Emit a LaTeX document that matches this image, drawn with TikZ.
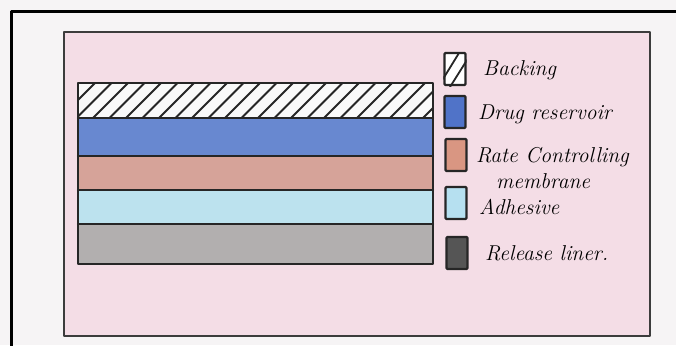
\documentclass[tikz,border=0pt]{standalone}
\definecolor{pagewhite}{RGB}{246,244,245}
\definecolor{paperpink}{RGB}{244,221,230}
\definecolor{framegray}{RGB}{60,60,60}
\definecolor{drugblue}{RGB}{104,136,208}
\definecolor{ratesalmon}{RGB}{214,163,153}
\definecolor{adhcyan}{RGB}{188,226,238}
\definecolor{relgray}{RGB}{178,175,175}
\definecolor{legblue}{RGB}{80,115,200}
\definecolor{legsalmon}{RGB}{217,150,130}
\definecolor{legcyan}{RGB}{182,224,240}
\definecolor{legdark}{RGB}{85,85,85}
\tikzset{
  layerline/.style={line width=2.3pt, draw=black!85},
  legbox/.style={draw=black!85, line width=2.3pt, minimum width=21pt, minimum height=32pt, inner sep=0pt, rounded corners=1pt},
  lab/.style={anchor=base west, inner sep=0pt, font=\fontsize{21.5}{24}\selectfont\itshape},
}
\begin{document}
\begin{tikzpicture}[x=1pt,y=-1pt, line join=round, line cap=round]
\useasboundingbox (0,0) rectangle (676,345);
\fill[pagewhite] (0,0) rectangle (676,345);
\draw[line width=3pt, black] (11,346) -- (11,12) -- (677,12);
% inner paper
\fill[paperpink] (64,32) rectangle (650,336);
\draw[line width=2.2pt, framegray] (64,32) rectangle (650,336);
% layers
\fill[white!95!gray] (78,83) rectangle (433,118);
\fill[drugblue] (78,118) rectangle (433,156);
\fill[ratesalmon] (78,156) rectangle (433,190);
\fill[adhcyan] (78,190) rectangle (433,224);
\fill[relgray] (78,224) rectangle (433,264);
\begin{scope}
  \clip (78,83) rectangle (433,118);
  \foreach \i in {0,...,23} {
    \draw[line width=1.8pt, black!85] ({60+\i*16.5},118) -- ({95+\i*16.5},83);
  }
\end{scope}
\draw[layerline] (78,83) rectangle (433,264);
\foreach \yy in {118,156,190,224} {
  \draw[layerline] (78,\yy) -- (433,\yy);
}
% legend boxes
\node[legbox, fill=white] (kback) at (455,69) {};
\begin{scope}
  \clip (kback.south west) rectangle (kback.north east);
  \draw[line width=1.8pt, black!85] (443,79) -- (459,53);
  \draw[line width=1.8pt, black!85] (450,87) -- (467,60);
\end{scope}
\node[legbox, fill=legblue] (kdrug) at (455,112) {};
\node[legbox, fill=legsalmon] (krate) at (456,155) {};
\node[legbox, fill=legcyan] (kadh) at (456,203) {};
\node[legbox, fill=legdark] (krel) at (457,253) {};
% legend labels
\node[lab] (tback) at (483,75) {Backing};
\node[lab] (tdrug) at (478,119) {Drug reservoir};
\node[lab] (trate) at (476,162) {Rate Controlling};
\node[lab] (tmem) at (496,188) {membrane};
\node[lab] (tadh) at (479,214) {Adhesive};
\node[lab] (trel) at (485,260) {Release liner.};
\end{tikzpicture}
\end{document}
